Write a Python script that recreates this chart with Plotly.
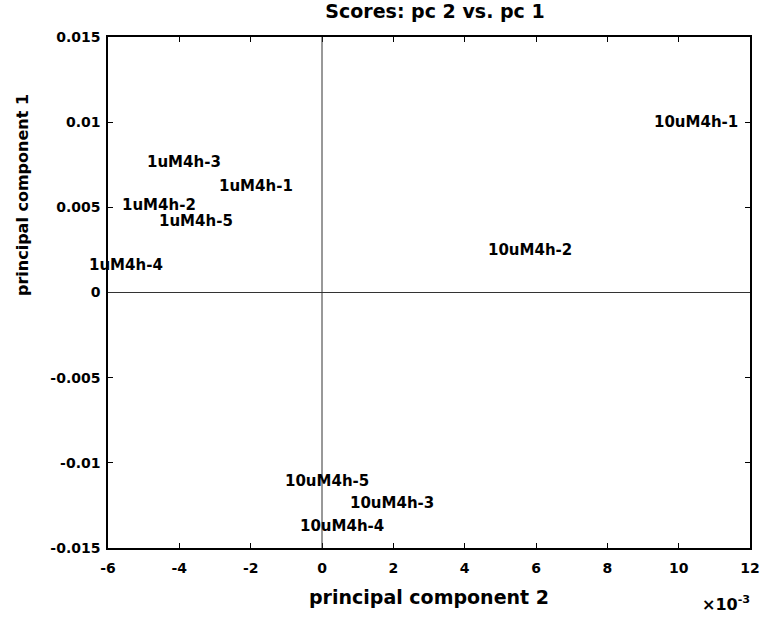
import plotly.graph_objects as go

labels = ["1uM4h-3", "1uM4h-1", "1uM4h-2", "1uM4h-5", "1uM4h-4",
          "10uM4h-1", "10uM4h-2", "10uM4h-5", "10uM4h-3", "10uM4h-4"]
pc2 = [-4.96, -2.94, -5.66, -4.63, -6.6, 9.25, 4.6, -1.08, 0.72, -0.67]  # x10^-3
pc1 = [0.00766, 0.00625, 0.00513, 0.0042, 0.00161, 0.0100, 0.0025, -0.01106, -0.01235, -0.0137]

xticks = [-6, -4, -2, 0, 2, 4, 6, 8, 10, 12]
yticks = [-0.015, -0.01, -0.005, 0, 0.005, 0.01, 0.015]
yticktext = ["-0.015", "-0.01", "-0.005", "0", "0.005", "0.01", "0.015"]

xr = [-6, 12]
yr = [-0.015, 0.015]

font = "DejaVu Sans, sans-serif"

fig = go.Figure()
fig.add_trace(go.Scatter(x=pc2, y=pc1, mode="markers", marker=dict(opacity=0),
                         showlegend=False, hoverinfo="skip", cliponaxis=False))

fig.add_shape(type="line", xref="x", yref="paper", x0=0, x1=0, y0=0, y1=1,
              line=dict(color="#333333", width=1))
fig.add_shape(type="line", xref="paper", yref="y", x0=0, x1=1, y0=0, y1=0,
              line=dict(color="#333333", width=1))

axis_common = dict(showline=True, linecolor="black", linewidth=1.5, mirror="ticks",
                   ticks="inside", ticklen=5, tickcolor="black", showgrid=False,
                   zeroline=False, tickfont=dict(family=font, size=14, color="black"))

fig.update_xaxes(range=xr, tickvals=xticks, ticktext=["<b>%d</b>" % v for v in xticks],
                 ticklabelstandoff=6,
                 title=dict(text="<b>principal component 2</b>",
                            font=dict(family=font, size=19, color="black"), standoff=16),
                 **axis_common)
fig.update_yaxes(range=yr, tickvals=yticks,
                 ticktext=["<b>%s</b>" % t for t in yticktext], ticklabelstandoff=3, **axis_common)

# labels placed via axis-domain fraction so labels beyond the axis range still show
annotations = [
    dict(text="<b>%s</b>" % lab, x=(xv - xr[0]) / (xr[1] - xr[0]), y=yv,
         xref="x domain", yref="y", showarrow=False,
         xanchor="left", yanchor="middle", font=dict(family=font, size=15, color="black"))
    for lab, xv, yv in zip(labels, pc2, pc1)
]
annotations += [
    dict(text="<b>principal component 1</b>", xref="paper", yref="paper", x=-0.133, y=0.69,
         textangle=-90, showarrow=False, font=dict(family=font, size=16, color="black"),
         xanchor="center", yanchor="middle"),
    dict(text="<b>×10<sup>-3</sup></b>", xref="paper", yref="paper", x=0.962, y=-0.085,
         showarrow=False, font=dict(family=font, size=16, color="black"),
         xanchor="center", yanchor="top"),
]

fig.update_layout(
    width=772, height=619, margin=dict(l=108, r=16, t=37, b=71),
    paper_bgcolor="white", plot_bgcolor="white",
    title=dict(text="<b>Scores: pc 2 vs. pc 1</b>", x=0.5635, xanchor="center",
               y=0.981, yanchor="middle",
               font=dict(family=font, size=19, color="black")),
    annotations=annotations,
)

fig.write_html("out.html")
